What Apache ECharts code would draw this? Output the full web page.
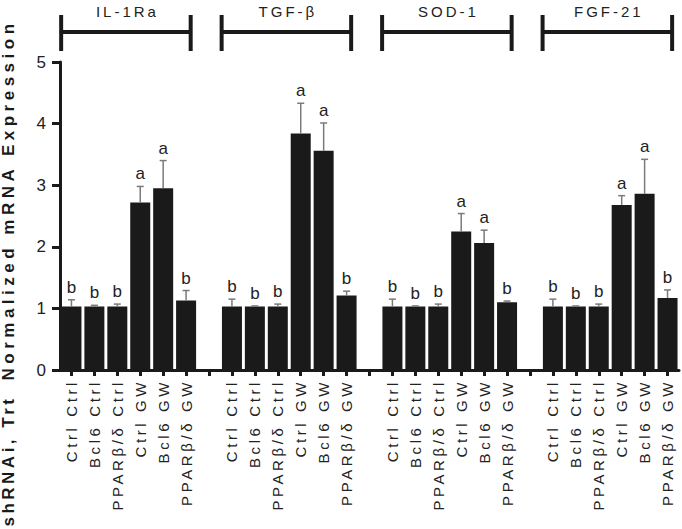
<!DOCTYPE html>
<html>
<head>
<meta charset="utf-8">
<script src="https://cdn.jsdelivr.net/npm/echarts@6/dist/echarts.min.js"></script>
<style>
html,body{margin:0;padding:0;background:#fff;}
#chart{width:682px;height:529px;}
</style>
</head>
<body>
<div id="chart"></div>
<script>
// ---- data ----
const groups = ['IL-1Ra', 'TGF-β', 'SOD-1', 'FGF-21'];
const conditions = ['Ctrl Ctrl', 'Bcl6 Ctrl', 'PPARβ/δ Ctrl', 'Ctrl GW', 'Bcl6 GW', 'PPARβ/δ GW'];
const il1raMean = [1.03, 1.03, 1.03, 2.72, 2.95, 1.13];
const il1raSem  = [0.11, 0.02, 0.04, 0.26, 0.45, 0.16];
const tgfbMean  = [1.03, 1.03, 1.03, 3.84, 3.56, 1.21];
const tgfbSem   = [0.12, 0.01, 0.04, 0.49, 0.45, 0.07];
const sod1Mean  = [1.03, 1.03, 1.03, 2.25, 2.06, 1.10];
const sod1Sem   = [0.12, 0.01, 0.04, 0.29, 0.21, 0.02];
const fgf21Mean = [1.03, 1.03, 1.03, 2.68, 2.86, 1.17];
const fgf21Sem  = [0.12, 0.01, 0.04, 0.15, 0.56, 0.13];
const letters   = ['b', 'b', 'b', 'a', 'a', 'b'];
const yName = 'Normalized mRNA Expression';
const xName = 'shRNAi, Trt';

// ---- build ----
const means = [il1raMean, tgfbMean, sod1Mean, fgf21Mean];
const sems = [il1raSem, tgfbSem, sod1Sem, fgf21Sem];
const categories = [];
const barData = [];
const errData = [];
const spans = [];
groups.forEach((g, gi) => {
  const start = categories.length;
  conditions.forEach((c, ci) => {
    const idx = categories.length;
    categories.push(c);
    barData.push(means[gi][ci]);
    errData.push([idx, means[gi][ci], means[gi][ci] + sems[gi][ci], ci]);
  });
  spans.push([start, categories.length - 1, 0]);
  if (gi < groups.length - 1) { categories.push(''); barData.push('-'); }
});

const FONT = "'Liberation Sans', Arial, Helvetica, sans-serif";
const INK = '#1a1a1a';

const chart = echarts.init(document.getElementById('chart'), null, {renderer: 'svg'});
chart.setOption({
  animation: false,
  backgroundColor: '#fff',
  grid: {left: 60, right: 3, top: 62, bottom: 159, containLabel: false},
  xAxis: {
    type: 'category',
    data: categories,
    boundaryGap: true,
    axisLine: {lineStyle: {color: INK, width: 3}},
    axisTick: {show: true, alignWithLabel: true, length: 6, lineStyle: {color: INK, width: 3}, interval: 0},
    axisLabel: {interval: 0, rotate: 90, margin: 9, fontSize: 15, fontFamily: FONT, color: '#222'},
    splitLine: {show: false}
  },
  yAxis: {
    type: 'value',
    min: 0, max: 5, interval: 1,
    axisLine: {show: true, lineStyle: {color: INK, width: 3}},
    axisTick: {show: true, length: 8, lineStyle: {color: INK, width: 3}},
    axisLabel: {margin: 14, fontSize: 17, fontFamily: FONT, color: '#222'},
    splitLine: {show: false}
  },
  graphic: [
    {type: 'text', x: 8, y: 200, rotation: Math.PI / 2,
     style: {text: yName, x: 0, y: 0, font: 'bold 17px ' + FONT, fill: INK,
             align: 'center', verticalAlign: 'middle', textAlign: 'center', textVerticalAlign: 'middle'}},
    {type: 'text', x: 8, y: 461, rotation: Math.PI / 2,
     style: {text: xName, x: 0, y: 0, font: 'bold 17px ' + FONT, fill: INK,
             align: 'center', verticalAlign: 'middle', textAlign: 'center', textVerticalAlign: 'middle'}}
  ],
  series: [
    {
      type: 'bar',
      data: barData,
      barWidth: 20,
      itemStyle: {color: INK},
      silent: true
    },
    {
      type: 'custom',
      data: errData,
      encode: {x: 0, y: 2},
      clip: false,
      silent: true,
      z: 3,
      renderItem: function (params, api) {
        const idx = api.value(0);
        const p0 = api.coord([idx, api.value(1)]);
        const p1 = api.coord([idx, api.value(2)]);
        const cap = 3.5;
        const letter = letters[api.value(3)];
        return {
          type: 'group',
          children: [
            {type: 'line', shape: {x1: p0[0], y1: p0[1], x2: p1[0], y2: p1[1]}, style: {stroke: '#7a7a7a', lineWidth: 1.5}},
            {type: 'line', shape: {x1: p1[0] - cap, y1: p1[1], x2: p1[0] + cap, y2: p1[1]}, style: {stroke: '#7a7a7a', lineWidth: 1.5}},
            {type: 'text', style: {text: letter, x: p1[0], y: p1[1] - 4, font: '17px ' + FONT, fill: '#222',
              align: 'center', verticalAlign: 'bottom', textAlign: 'center', textVerticalAlign: 'bottom'}}
          ]
        };
      }
    },
    {
      type: 'custom',
      data: spans,
      encode: {x: [0, 1], y: 2},
      clip: false,
      silent: true,
      renderItem: function (params, api) {
        const band = api.size([1, 0])[0];
        const xa = api.coord([api.value(0), 0])[0] - 0.45 * band;
        const xb = api.coord([api.value(1), 0])[0] + 0.2 * band;
        const top = params.coordSys.y;
        const ly = top - 30;
        return {
          type: 'group',
          children: [
            {type: 'line', shape: {x1: xa, y1: ly, x2: xb, y2: ly}, style: {stroke: INK, lineWidth: 4}},
            {type: 'line', shape: {x1: xa, y1: top - 47, x2: xa, y2: top - 11}, style: {stroke: INK, lineWidth: 4}},
            {type: 'line', shape: {x1: xb, y1: top - 47, x2: xb, y2: top - 11}, style: {stroke: INK, lineWidth: 4}},
            {type: 'text', style: {text: groups[params.dataIndex], x: (xa + xb) / 2 + 1.5, y: top - 51, font: '15px ' + FONT, fill: '#222',
              align: 'center', verticalAlign: 'middle', textAlign: 'center', textVerticalAlign: 'middle'}}
          ]
        };
      }
    }
  ]
});

function applySpacing() {
  const svg = document.querySelector('#chart svg');
  if (!svg) return;
  svg.querySelectorAll('text').forEach(function (t) {
    const s = t.textContent;
    let ls = null;
    if (conditions.indexOf(s) >= 0) ls = 3.6;
    else if (groups.indexOf(s) >= 0) ls = 3;
    else if (s === yName) ls = 4.5;
    else if (s === xName) ls = 3.5;
    if (ls !== null) t.setAttribute('letter-spacing', ls);
  });
}
applySpacing();
chart.on('finished', applySpacing);
setTimeout(applySpacing, 50);
</script>
</body>
</html>
